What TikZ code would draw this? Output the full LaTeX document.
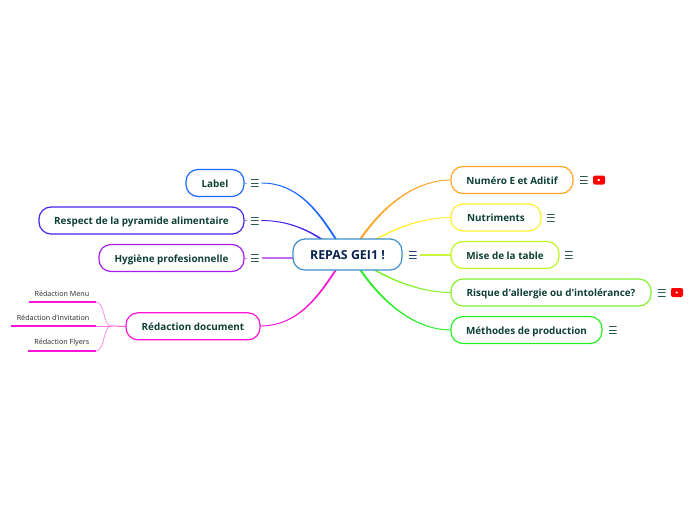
\documentclass[tikz,border=0pt]{standalone}
\usepackage{fontspec}
\setmainfont{Noto Sans}
\newfontfamily\headfam{Open Sans}
\definecolor{txtgreen}{HTML}{0F4036}
\definecolor{txtnavy}{HTML}{0A2350}
\definecolor{iconcol}{HTML}{2A5A50}
\definecolor{iconnavy}{HTML}{2A4270}
\definecolor{cblue}{HTML}{1A66FF}
\definecolor{cindigo}{HTML}{4A22F0}
\definecolor{cviolet}{HTML}{A61CEB}
\definecolor{cmag}{HTML}{FF14D8}
\definecolor{corange}{HTML}{FFA526}
\definecolor{cyellow}{HTML}{FFF02E}
\definecolor{clime}{HTML}{BEF51E}
\definecolor{cgreenA}{HTML}{84F02C}
\definecolor{cgreenB}{HTML}{26EE26}
\definecolor{ccentre}{HTML}{3A8FCC}
\definecolor{csub}{HTML}{333333}
\tikzset{
  topic/.style={draw=#1,line width=1.2pt,rounded corners=12pt,fill=white,inner sep=0pt,
    minimum height=27pt,text=txtgreen,text height=10.5pt,text depth=2pt,font=\headfam\fontsize{9.9}{11}\selectfont\bfseries},
  centre/.style={draw=ccentre,line width=1.2pt,rounded corners=12pt,fill=white,inner sep=0pt,
    minimum width=109pt,minimum height=31pt,text=txtnavy,text height=12pt,text depth=2.5pt,font=\headfam\fontsize{12.4}{14}\selectfont\bfseries},
  subtxt/.style={anchor=east,inner sep=0pt,text=csub,font=\fontsize{7.15}{8}\selectfont},
  burger/.style={minimum width=8pt,minimum height=8pt,inner sep=0pt,
    path picture={\draw[#1,line width=0.7pt]
      ([yshift=3.5pt]path picture bounding box.west)--([yshift=3.5pt]path picture bounding box.east)
      (path picture bounding box.west)--(path picture bounding box.east)
      ([yshift=-3.5pt]path picture bounding box.west)--([yshift=-3.5pt]path picture bounding box.east);}},
  ytube/.style={fill=red,rounded corners=2pt,minimum width=12pt,minimum height=9pt,inner sep=0pt,
    path picture={\fill[white] ([xshift=-1.5pt,yshift=1.8pt]path picture bounding box.center)--
      ([xshift=2pt]path picture bounding box.center)--([xshift=-1.5pt,yshift=-1.8pt]path picture bounding box.center)--cycle;}},
  branch/.style={line width=0.9pt,draw=#1,fill=#1,line join=round},
  flat/.style={line width=1.6pt,draw=#1},
  subline/.style={draw=cmag,line width=1.5pt},
  thinlink/.style={draw=cmag!55,line width=0.7pt},
  stub/.style={line width=0.6pt,shorten >=3.5pt}
}
\begin{document}
\begin{tikzpicture}[x=1pt,y=-1pt]
\useasboundingbox (0,0) rectangle (696,520);
% icons
\node[burger=iconcol] (bL) at (254.5,183) {};
\node[burger=iconcol] (bR) at (254.5,220.5) {};
\node[burger=iconcol] (bH) at (254.5,258) {};
\node[burger=iconnavy] (bC) at (412.5,255) {};
\node[burger=iconcol] (bN) at (583.5,180) {};
\node[burger=iconcol] (bT) at (550.5,217.5) {};
\node[burger=iconcol] (bM) at (568.5,255) {};
\node[burger=iconcol] (bQ) at (661.5,292.5) {};
\node[burger=iconcol] (bP) at (612.5,330) {};
\node[ytube] (yA) at (599,180) {};
\node[ytube] (yB) at (677,292.5) {};
% branch ends
\coordinate (sL) at (261.5,183);
\coordinate (sR) at (261.5,220.5);
\coordinate (sH) at (261.5,258);
\coordinate (sD) at (260,326);
\coordinate (sN) at (451,180);
\coordinate (sT) at (451,217.5);
\coordinate (sM) at (419.5,255);
\coordinate (sQ) at (451,292.5);
\coordinate (sP) at (451,330);
\coordinate (hubL) at (293,258);
\coordinate (hubR) at (451,255);
% branches (tapering slightly towards the centre)
\draw[branch=cblue] (sL) .. controls (297,183) and (317,210) .. (336.5,241) -- (337.5,241) .. controls (318,209.7) and (297,183) .. (sL) -- cycle;
\draw[branch=cindigo] (sR) .. controls (285,220.5) and (305,228) .. (323.5,241) -- (324.8,241) .. controls (305.6,227.7) and (285,220.5) .. (sR) -- cycle;
\draw[flat=cviolet!65] (sH) -- (hubL);
\draw[branch=cmag] (sD) .. controls (297,326) and (317,298) .. (336.5,268) -- (337.5,268) .. controls (318,298.3) and (297,326) .. (sD) -- cycle;
\draw[branch=corange] (sN) .. controls (412,180) and (379,210) .. (358.5,241) -- (359.8,241) .. controls (380,210.3) and (412,180) .. (sN) -- cycle;
\draw[branch=cyellow] (sT) .. controls (425,217.5) and (397,226.5) .. (372.5,241) -- (373.8,241) .. controls (397.6,226.9) and (425,217.5) .. (sT) -- cycle;
\draw[flat=clime!85] (sM) -- (hubR);
\draw[branch=cgreenA] (sQ) .. controls (425,292.5) and (397,283.5) .. (370.5,268) -- (371.8,268) .. controls (397.6,283) and (425,292.5) .. (sQ) -- cycle;
\draw[branch=cgreenB] (sP) .. controls (412,330) and (379,298.5) .. (358.5,268) -- (359.8,268) .. controls (380,298.2) and (412,330) .. (sP) -- cycle;
% topic boxes
\node[centre] (c) at (347.5,254.5) {REPAS GEI1 !};
\node[topic=cblue,minimum width=58pt] (lab) at (215,183) {Label};
\node[topic=cindigo,minimum width=205pt] (pyr) at (141.5,220.5) {Respect de la pyramide alimentaire};
\node[topic=cviolet,minimum width=145pt] (hyg) at (171.5,258) {Hygiène profesionnelle};
\node[topic=cmag,minimum width=134pt] (doc) at (193,326.3) {Rédaction document};
\node[topic=corange,minimum width=122pt] (num) at (512,180) {Numéro E et Aditif};
\node[topic=cyellow,minimum width=90pt] (nut) at (496,217.5) {Nutriments};
\node[topic=clime,minimum width=108pt] (mis) at (505,255) {Mise de la table};
\node[topic=cgreenA,minimum width=200pt] (ris) at (551,292.5) {Risque d'allergie ou d'intolérance?};
\node[topic=cgreenB,minimum width=151pt] (met) at (526.5,330) {Méthodes de production};
% small ticks between boxes and icons
\draw[stub,cblue!60] (lab.east) -- (bL.west);
\draw[stub,cindigo!60] (pyr.east) -- (bR.west);
\draw[stub,cviolet!60] (hyg.east) -- (bH.west);
\draw[stub,clime] (c.east) -- (bC.west);
% sub-branches
\node[subtxt] (t1) at (89.5,293.5) {Rédaction Menu};
\node[subtxt] (t2) at (89.5,317.5) {Rédaction d'invitation};
\node[subtxt] (t3) at (89.5,342.8) {Rédaction Flyers};
\coordinate (u1) at (29,302);
\coordinate (e1) at (96,302);
\coordinate (u2) at (11,326);
\coordinate (e2) at (96,326);
\coordinate (u3) at (28,351);
\coordinate (e3) at (96,351);
\coordinate (fork) at (111,326);
\draw[subline] (u1) -- (e1);
\draw[subline] (u2) -- (e2);
\draw[subline] (u3) -- (e3);
\draw[thinlink] (e1) .. controls (105,302) and (103,326) .. (fork);
\draw[thinlink] (e2) -- (fork);
\draw[thinlink] (e3) .. controls (105,351) and (103,326) .. (fork);
\draw[thinlink,draw=cmag] (fork) -- (doc.west);
\end{tikzpicture}
\end{document}
